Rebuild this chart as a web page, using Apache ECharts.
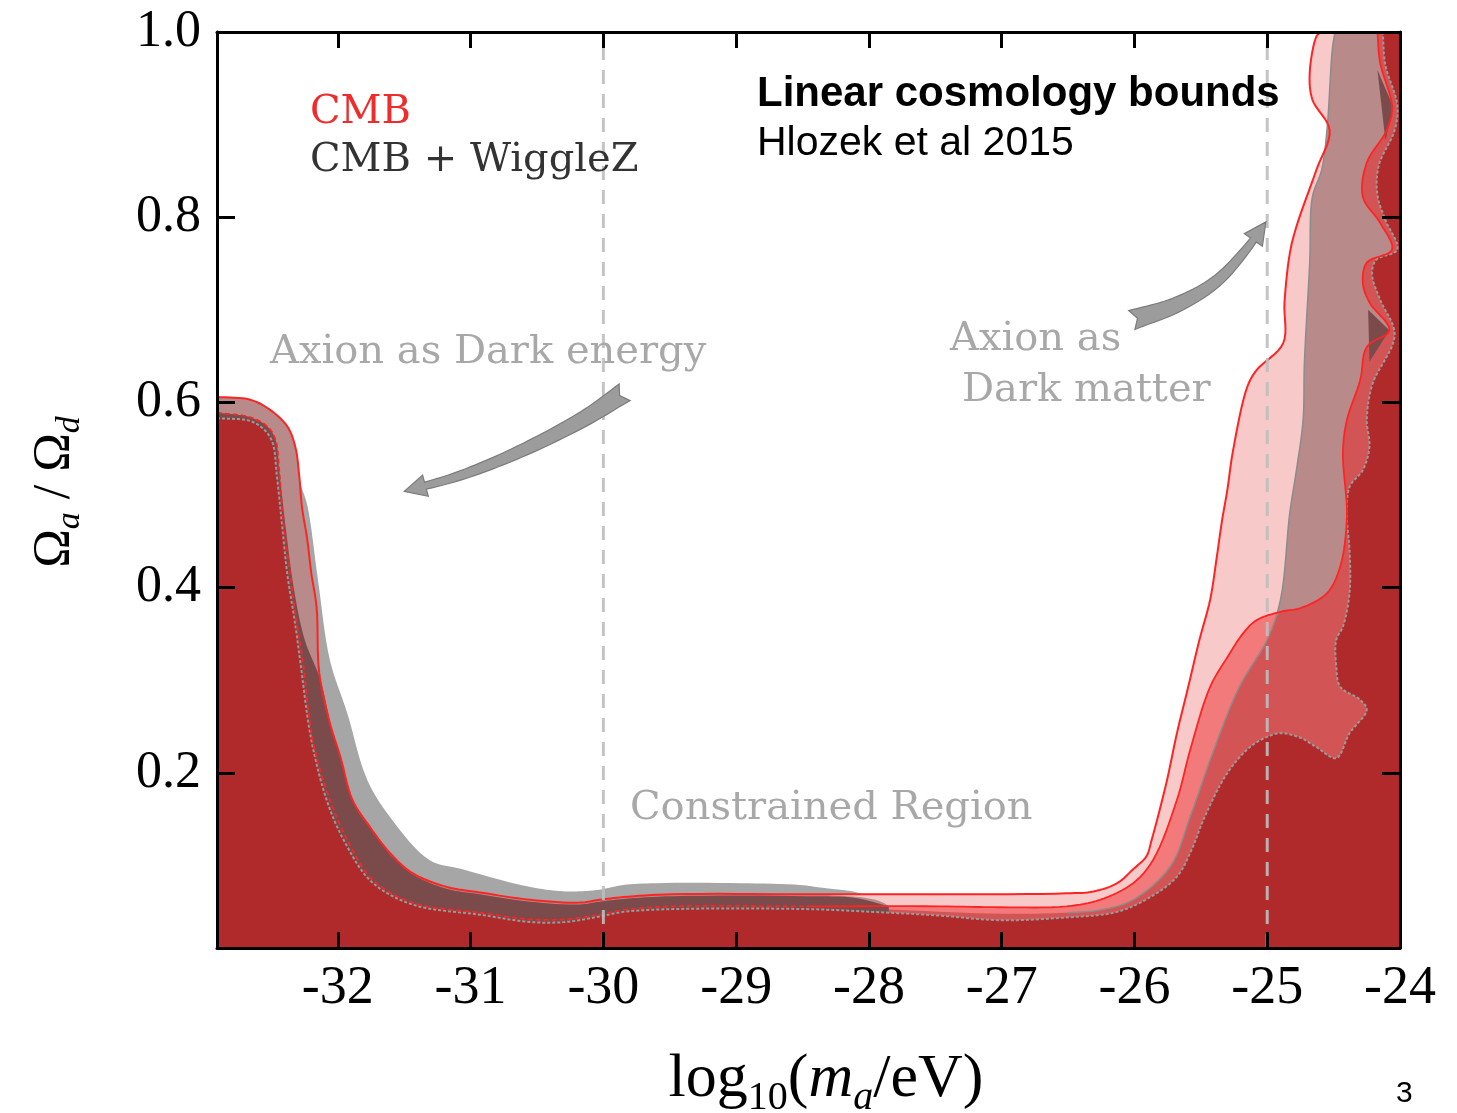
<!DOCTYPE html>
<html>
<head>
<meta charset="utf-8">
<script src="https://cdn.jsdelivr.net/npm/echarts@6/dist/echarts.min.js"></script>
<style>
html, body { margin: 0; padding: 0; background: #fff; }
#chart { width: 1457px; height: 1113px; }
</style>
</head>
<body>
<div id="chart"></div>
<script>
const xMin = -32.91, xMax = -24, yMin = 0.011, yMax = 1.0;
const xTicks = [-32, -31, -30, -29, -28, -27, -26, -25, -24];
const yTicks = [0.2, 0.4, 0.6, 0.8, 1.0];
const refLines = [-30, -25];

// CMB outer contour (solid red line)
const cmbOuter = [
  [-32.91, 0.606], [-32.66, 0.603], [-32.51, 0.592], [-32.38, 0.574], [-32.32, 0.552], [-32.29, 0.520],
  [-32.27, 0.487], [-32.23, 0.452], [-32.20, 0.416], [-32.16, 0.379], [-32.14, 0.308], [-32.06, 0.254],
  [-31.98, 0.217], [-31.89, 0.171], [-31.76, 0.142], [-31.61, 0.114], [-31.44, 0.092], [-31.18, 0.077],
  [-30.93, 0.071], [-30.55, 0.063], [-30.18, 0.060], [-30.03, 0.063], [-29.85, 0.066], [-29.48, 0.069],
  [-28.47, 0.069], [-27.47, 0.069], [-26.51, 0.070], [-26.31, 0.072], [-26.13, 0.081], [-26.01, 0.096],
  [-25.91, 0.110], [-25.87, 0.128], [-25.76, 0.189], [-25.68, 0.243], [-25.60, 0.290], [-25.51, 0.344],
  [-25.43, 0.387], [-25.38, 0.433], [-25.34, 0.473], [-25.30, 0.506], [-25.26, 0.546], [-25.15, 0.617],
  [-25.08, 0.635], [-24.88, 0.664], [-24.87, 0.708], [-24.83, 0.761], [-24.78, 0.790], [-24.63, 0.851],
  [-24.53, 0.894], [-24.66, 0.927], [-24.68, 0.956], [-24.63, 0.995], [-24.60, 1.0]
];

// CMB + WiggleZ outer contour (grey)
const wiggleOuter = [
  [-32.91, 0.604], [-32.51, 0.590], [-32.34, 0.554], [-32.29, 0.516], [-32.23, 0.489], [-32.15, 0.409],
  [-32.06, 0.322], [-31.93, 0.265], [-31.78, 0.193], [-31.61, 0.153], [-31.31, 0.106], [-31.06, 0.096],
  [-30.68, 0.081], [-30.43, 0.074], [-30.23, 0.072], [-30.03, 0.074], [-29.85, 0.079], [-29.60, 0.081],
  [-28.97, 0.081], [-28.52, 0.079], [-28.35, 0.076], [-28.09, 0.071], [-27.95, 0.063], [-27.77, 0.052],
  [-27.01, 0.048], [-26.51, 0.049], [-26.26, 0.052], [-26.01, 0.063], [-25.73, 0.099], [-25.58, 0.153],
  [-25.41, 0.222], [-25.21, 0.293], [-25.00, 0.344], [-24.90, 0.387], [-24.83, 0.481], [-24.78, 0.527],
  [-24.73, 0.581], [-24.72, 0.643], [-24.68, 0.751], [-24.66, 0.822], [-24.59, 0.851], [-24.55, 0.894],
  [-24.51, 0.981], [-24.49, 1.0]
];

// CMB inner contour (red line)
const cmbInner = [
  [-32.91, 0.589], [-32.66, 0.584], [-32.53, 0.574], [-32.47, 0.560], [-32.44, 0.524], [-32.41, 0.470],
  [-32.36, 0.416], [-32.31, 0.362], [-32.26, 0.317], [-32.19, 0.236], [-32.06, 0.171], [-31.93, 0.128],
  [-31.74, 0.085], [-31.44, 0.060], [-30.93, 0.049], [-30.55, 0.042], [-30.29, 0.042], [-30.03, 0.047],
  [-29.85, 0.052], [-29.48, 0.056], [-28.47, 0.056], [-27.47, 0.056], [-27.01, 0.055], [-26.51, 0.056],
  [-26.26, 0.063], [-26.01, 0.081], [-25.86, 0.106], [-25.68, 0.171], [-25.58, 0.225], [-25.43, 0.293],
  [-25.30, 0.325], [-25.18, 0.351], [-25.08, 0.365], [-24.90, 0.374], [-24.75, 0.378], [-24.55, 0.394],
  [-24.45, 0.423], [-24.40, 0.477], [-24.43, 0.546], [-24.40, 0.581], [-24.30, 0.624], [-24.25, 0.660],
  [-24.08, 0.678], [-24.23, 0.708], [-24.28, 0.729], [-24.25, 0.751], [-24.06, 0.765], [-24.15, 0.794],
  [-24.28, 0.822], [-24.25, 0.859], [-24.10, 0.894], [-24.06, 0.919], [-24.15, 0.967], [-24.17, 1.0]
];

// CMB + WiggleZ inner contour (grey dotted line)
const wiggleInner = [
  [-32.91, 0.583], [-32.66, 0.580], [-32.55, 0.570], [-32.49, 0.556], [-32.46, 0.522], [-32.42, 0.468],
  [-32.38, 0.414], [-32.32, 0.360], [-32.28, 0.317], [-32.20, 0.236], [-32.08, 0.169], [-31.95, 0.126],
  [-31.75, 0.083], [-31.44, 0.058], [-30.93, 0.047], [-30.55, 0.039], [-30.29, 0.039], [-30.03, 0.045],
  [-29.85, 0.050], [-29.48, 0.053], [-28.47, 0.053], [-27.97, 0.050], [-27.47, 0.046], [-27.01, 0.041],
  [-26.51, 0.044], [-26.13, 0.050], [-25.88, 0.066], [-25.68, 0.088], [-25.57, 0.117], [-25.47, 0.153],
  [-25.30, 0.200], [-25.13, 0.228], [-25.00, 0.239], [-24.90, 0.243], [-24.75, 0.238], [-24.63, 0.228],
  [-24.48, 0.216], [-24.38, 0.243], [-24.25, 0.268], [-24.30, 0.279], [-24.45, 0.293], [-24.48, 0.315],
  [-24.48, 0.344], [-24.43, 0.358], [-24.38, 0.394], [-24.38, 0.441], [-24.40, 0.477], [-24.38, 0.509],
  [-24.28, 0.527], [-24.23, 0.552], [-24.25, 0.581], [-24.21, 0.619], [-24.04, 0.673], [-24.15, 0.711],
  [-24.21, 0.738], [-24.18, 0.754], [-24.02, 0.765], [-24.11, 0.797], [-24.17, 0.824], [-24.16, 0.856],
  [-24.04, 0.894], [-24.02, 0.921], [-24.11, 0.964], [-24.13, 1.0]
];

// dark overlap band on the left branch
const darkBand = [
  [-32.91, 0.589], [-32.66, 0.584], [-32.53, 0.574], [-32.47, 0.560], [-32.44, 0.524], [-32.39, 0.462],
  [-32.33, 0.398], [-32.25, 0.344], [-32.13, 0.300], [-32.05, 0.250], [-31.97, 0.212], [-31.88, 0.167],
  [-31.75, 0.139], [-31.60, 0.111], [-31.43, 0.090], [-31.18, 0.075], [-30.93, 0.069], [-30.55, 0.061],
  [-30.18, 0.058], [-30.03, 0.061], [-29.85, 0.064], [-29.48, 0.067], [-28.47, 0.067], [-28.10, 0.065],
  [-27.85, 0.056]
];

const pocketA = [[-24.17, 0.959], [-24.05, 0.919], [-24.11, 0.883]];
const pocketB = [[-24.24, 0.700], [-24.08, 0.678], [-24.23, 0.644]];

const arrowDE = [[-29.84, 0.611], [-30.14, 0.583], [-30.63, 0.547], [-31.08, 0.521], [-31.50, 0.504]];
const arrowDM = [[-26.02, 0.689], [-25.69, 0.705], [-25.39, 0.730], [-25.16, 0.765], [-25.01, 0.795]];

// centripetal catmull-rom through pixel points (drawing only)
function smoothPx(px, steps) {
  if (px.length < 3) return px;
  const n = px.length;
  const ext = [[2 * px[0][0] - px[1][0], 2 * px[0][1] - px[1][1]]].concat(px,
    [[2 * px[n - 1][0] - px[n - 2][0], 2 * px[n - 1][1] - px[n - 2][1]]]);
  const knot = (a, b) => Math.max(Math.sqrt(Math.hypot(b[0] - a[0], b[1] - a[1])), 1e-4);
  const lerp = (a, b, ta, tb, t) => {
    const w = (t - ta) / (tb - ta);
    return [a[0] + (b[0] - a[0]) * w, a[1] + (b[1] - a[1]) * w];
  };
  const out = [];
  for (let i = 1; i < ext.length - 2; i++) {
    const P0 = ext[i - 1], P1 = ext[i], P2 = ext[i + 1], P3 = ext[i + 2];
    const t0 = 0, t1 = t0 + knot(P0, P1), t2 = t1 + knot(P1, P2), t3 = t2 + knot(P2, P3);
    for (let s = 0; s < steps; s++) {
      const t = t1 + (t2 - t1) * s / steps;
      const A1 = lerp(P0, P1, t0, t1, t), A2 = lerp(P1, P2, t1, t2, t), A3 = lerp(P2, P3, t2, t3, t);
      const B1 = lerp(A1, A2, t0, t2, t), B2 = lerp(A2, A3, t1, t3, t);
      out.push(lerp(B1, B2, t1, t2, t));
    }
  }
  out.push(px[n - 1]);
  return out;
}

const mauveCurve = cmbOuter.filter(p => p[0] <= -28.4).concat(wiggleOuter.filter(p => p[0] >= -27.96));
const curlStart = cmbInner.findIndex(p => p[0] > -24.95 && p[1] > 0.3);
const mediumCurve = cmbInner.filter(p => p[0] <= -28.4)
  .concat(wiggleOuter.filter(p => p[0] >= -27.8 && p[0] <= -25.0))
  .concat(cmbInner.slice(curlStart));

// region below a curve; curves that end on the top edge close round the right side
function area(curve, toTop, fill, z) {
  return {
    type: 'custom', silent: true, z: z, data: [[xMin, yMin]],
    renderItem: (params, api) => {
      const last = curve[curve.length - 1];
      const close = toTop ? [[xMax, yMax], [xMax, yMin]] : [[last[0], yMin]];
      const line = smoothPx(curve.map(p => api.coord(p)), 8);
      const pts = [api.coord([xMin, yMin])].concat(line, close.map(p => api.coord(p)));
      return { type: 'polygon', shape: { points: pts }, style: { fill: fill, stroke: null } };
    }
  };
}

function patch(pts, fill, z) {
  return {
    type: 'custom', silent: true, z: z, data: [[xMin, yMin]],
    renderItem: (params, api) => ({
      type: 'polygon', shape: { points: pts.map(p => api.coord(p)) }, style: { fill: fill }
    })
  };
}

function stroke(curve, color, width, dash, z) {
  return {
    type: 'custom', silent: true, z: z, data: [[xMin, yMin]],
    renderItem: (params, api) => ({
      type: 'polyline',
      shape: { points: smoothPx(curve.map(p => api.coord(p)), 8) },
      style: { stroke: color, lineWidth: width, fill: 'none', lineDash: dash || null }
    })
  };
}

function arrowPoints(raw, wTail, wNeck, headLen, headW, notch) {
  const tip = raw[raw.length - 1];
  const dist = p => Math.hypot(tip[0] - p[0], tip[1] - p[1]);
  const kept = raw.filter(p => dist(p) > headLen);
  const ref = kept[kept.length - 1];
  const L = dist(ref), ux = (tip[0] - ref[0]) / L, uy = (tip[1] - ref[1]) / L;
  const body = kept.concat([[tip[0] - ux * headLen, tip[1] - uy * headLen]]);
  const left = [], right = [];
  for (let i = 0; i < body.length; i++) {
    const a = body[Math.max(0, i - 1)], b = body[Math.min(body.length - 1, i + 1)];
    let tx = b[0] - a[0], ty = b[1] - a[1];
    const l = Math.hypot(tx, ty) || 1; tx /= l; ty /= l;
    const w = (wTail + (wNeck - wTail) * Math.pow(i / (body.length - 1), 0.8)) / 2;
    left.push([body[i][0] - ty * w, body[i][1] + tx * w]);
    right.push([body[i][0] + ty * w, body[i][1] - tx * w]);
  }
  const base = body[body.length - 1];
  const hl = [base[0] - uy * headW / 2, base[1] + ux * headW / 2];
  const hr = [base[0] + uy * headW / 2, base[1] - ux * headW / 2];
  const t0x = body[3][0] - body[0][0], t0y = body[3][1] - body[0][1];
  const l0 = Math.hypot(t0x, t0y);
  const nt = [body[0][0] + t0x / l0 * notch, body[0][1] + t0y / l0 * notch];
  return left.concat([hl, tip, hr], right.reverse(), [nt]);
}

function arrow(path) {
  return {
    type: 'custom', silent: true, z: 30, data: [[xMin, yMin]],
    renderItem: (params, api) => ({
      type: 'polygon',
      shape: { points: arrowPoints(smoothPx(path.map(p => api.coord(p)), 10), 20, 7, 22, 22, 6) },
      style: { fill: '#9c9c9c', stroke: '#7c7c7c', lineWidth: 1.2 }
    })
  };
}

const serif = '"DejaVu Serif", serif';
const axisBase = {
  type: 'value', z: 50,
  axisLine: { onZero: false, lineStyle: { color: '#000', width: 3 } },
  splitLine: { show: false }
};

const chart = echarts.init(document.getElementById('chart'));
chart.setOption({
  animation: false,
  backgroundColor: '#fff',
  grid: { left: 217, right: 57, top: 32, bottom: 165 },
  xAxis: [
    Object.assign({}, axisBase, {
      min: xMin, max: xMax, position: 'bottom',
      axisTick: { inside: true, length: 16, customValues: xTicks, lineStyle: { color: '#000', width: 3 } },
      axisLabel: {
        customValues: xTicks, margin: 14, color: '#000',
        fontFamily: 'Liberation Serif', fontSize: 54, formatter: v => String(v)
      }
    }),
    Object.assign({}, axisBase, {
      min: xMin, max: xMax, position: 'top',
      axisTick: { inside: true, length: 16, customValues: xTicks, lineStyle: { color: '#000', width: 3 } },
      axisLabel: { show: false }
    })
  ],
  yAxis: [
    Object.assign({}, axisBase, {
      min: yMin, max: yMax, position: 'left',
      axisTick: { inside: true, length: 18, customValues: yTicks, lineStyle: { color: '#000', width: 3 } },
      axisLabel: {
        customValues: yTicks, margin: 16, color: '#000',
        fontFamily: 'Liberation Serif', fontSize: 52, formatter: v => v.toFixed(1)
      }
    }),
    Object.assign({}, axisBase, {
      min: yMin, max: yMax, position: 'right',
      axisTick: { inside: true, length: 18, customValues: yTicks, lineStyle: { color: '#000', width: 3 } },
      axisLabel: { show: false }
    })
  ],
  series: [
    area(wiggleOuter, true, '#a6a6a6', 2),
    area(cmbOuter, true, '#f8c9c9', 3),
    area(mauveCurve, true, '#b88a8a', 4),
    area(cmbInner, true, '#f27a7a', 5),
    area(mediumCurve, true, '#d35454', 6),
    area(darkBand, false, '#7b4a4a', 7),
    area(wiggleInner, true, '#b02a2b', 8),
    patch(pocketA, '#7b4a4a', 9),
    patch(pocketB, '#7b4a4a', 9),
    stroke(wiggleOuter.filter(p => p[0] >= -26.6), '#8c8c8c', 1.5, null, 10),
    stroke(wiggleInner, '#9a9a9a', 2, [3, 2], 11),
    stroke(cmbInner.filter(p => p[0] <= -28.47), '#ff2424', 1.8, [5, 3], 12),
    stroke(cmbInner.filter(p => p[0] >= -28.47), '#ff2424', 1.8, null, 12),
    stroke(cmbOuter, '#ff2424', 2, null, 12)
  ].concat(refLines.map(x => ({
    type: 'line', silent: true, z: 20, symbol: 'none',
    data: [[x, yMin], [x, yMax]],
    lineStyle: { color: 'rgba(190,190,190,0.9)', width: 3, type: [14, 10] }
  })), [arrow(arrowDE), arrow(arrowDM)]),
  graphic: { elements: [
    { type: 'text', left: 310, top: 93, z: 100, style: { text: 'CMB', fill: '#ee2c2c', font: '40px ' + serif } },
    { type: 'text', left: 310, top: 141, z: 100, style: { text: 'CMB + WiggleZ', fill: '#333', font: '40px ' + serif } },
    { type: 'text', left: 757, top: 73, z: 100, style: { text: 'Linear cosmology bounds', fill: '#000', font: 'bold 42px "Liberation Sans", sans-serif' } },
    { type: 'text', left: 757, top: 123, z: 100, style: { text: 'Hlozek et al 2015', fill: '#000', font: '41px "Liberation Sans", sans-serif' } },
    { type: 'text', left: 270, top: 333, z: 100, style: { text: 'Axion as Dark energy', fill: '#a8a8a8', font: '40px ' + serif } },
    { type: 'text', left: 950, top: 320, z: 100, style: { text: 'Axion as', fill: '#a8a8a8', font: '40px ' + serif } },
    { type: 'text', left: 962, top: 371, z: 100, style: { text: 'Dark matter', fill: '#a8a8a8', font: '40px ' + serif } },
    { type: 'text', left: 630, top: 789, z: 100, style: { text: 'Constrained Region', fill: '#a8a8a8', font: '40px ' + serif } },
    { type: 'text', left: 1396, top: 1079, z: 100, style: { text: '3', fill: '#000', font: '30px "Liberation Sans", sans-serif' } },
    {
      type: 'text', x: 55, y: 492, rotation: Math.PI / 2, z: 100,
      style: {
        text: '{o|Ω}{s|a}{o| / Ω}{s|d}', align: 'center', verticalAlign: 'middle',
        rich: {
          o: { fontSize: 52, fontFamily: 'Liberation Serif', fill: '#000' },
          s: { fontSize: 34, fontFamily: 'Liberation Serif', fontStyle: 'italic', fill: '#000', padding: [30, 0, 0, 0] }
        }
      }
    },
    {
      type: 'text', x: 826, y: 1080, z: 100,
      style: {
        text: '{n|log}{sub|10}{n|(}{i|m}{si|a}{n|/eV)}', align: 'center', verticalAlign: 'middle',
        rich: {
          n: { fontSize: 62, fontFamily: 'Liberation Serif', fill: '#000' },
          i: { fontSize: 62, fontFamily: 'Liberation Serif', fontStyle: 'italic', fill: '#000' },
          sub: { fontSize: 40, fontFamily: 'Liberation Serif', fill: '#000', padding: [36, 0, 0, 0] },
          si: { fontSize: 40, fontFamily: 'Liberation Serif', fontStyle: 'italic', fill: '#000', padding: [36, 0, 0, 0] }
        }
      }
    }
  ] }
});
</script>
</body>
</html>
